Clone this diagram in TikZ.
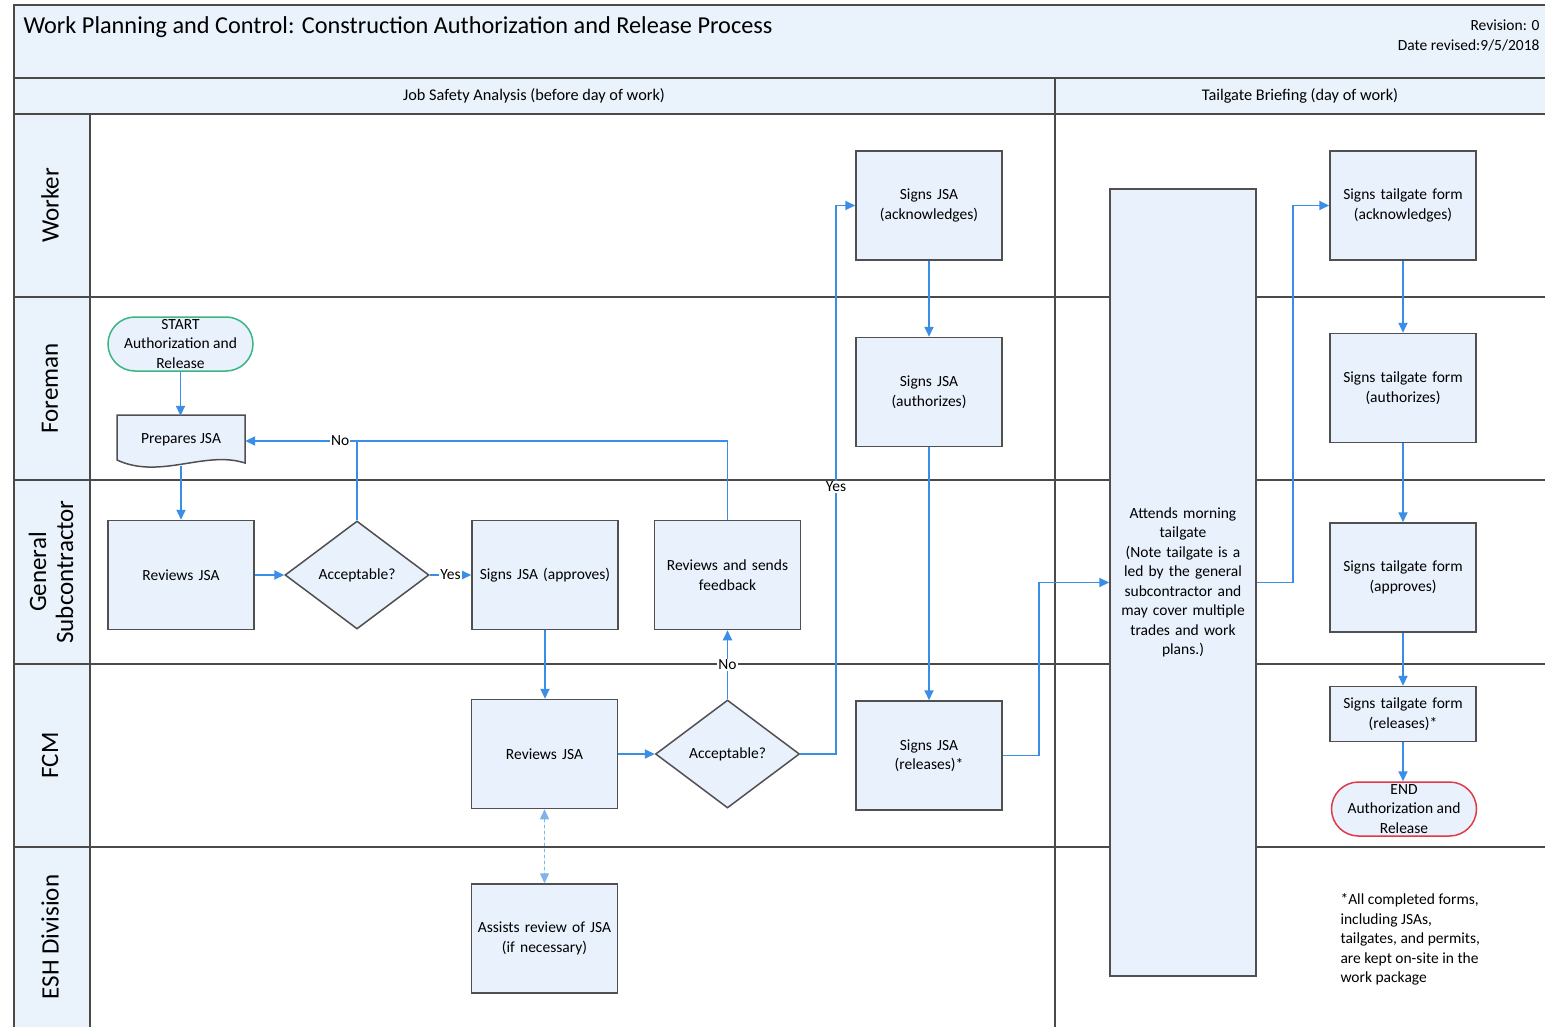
\documentclass[tikz,border=0pt]{standalone}
\usepackage{fontspec}
\setmainfont{Carlito}
\usepackage{tikz}
\usetikzlibrary{positioning,arrows.meta,shapes.geometric,calc}
\definecolor{bandblue}{HTML}{EAF2FB}
\definecolor{boxfill}{HTML}{E8F1FC}
\definecolor{boxstroke}{HTML}{505050}
\definecolor{gridline}{HTML}{4A4A4A}
\definecolor{flowblue}{HTML}{3A8EE6}
\definecolor{dotblue}{HTML}{7FB3EC}
\definecolor{startgreen}{HTML}{3DB57F}
\definecolor{endred}{HTML}{E03A47}
\tikzset{
  box/.style    = {draw=boxstroke, fill=boxfill, line width=1.5pt, align=center,
                   font=\fontsize{15.5}{19.5}\selectfont, inner sep=3pt,
                   minimum width=146pt, minimum height=109pt, text width=140pt},
  tallbox/.style= {box, minimum height=787pt},
  slimbox/.style= {box, minimum height=55pt},
  decide/.style = {diamond, draw=boxstroke, fill=boxfill, line width=1.5pt,
                   font=\fontsize{15.5}{19.5}\selectfont, inner sep=0pt,
                   minimum width=144pt, minimum height=108pt},
  term/.style   = {draw, fill=boxfill, line width=1.5pt, rounded corners=27pt,
                   align=center, font=\fontsize{15.5}{19.5}\selectfont, inner sep=0pt,
                   minimum width=145pt, minimum height=54pt},
  doc/.style    = {draw=none, align=center, font=\fontsize{15.5}{19.5}\selectfont,
                   minimum width=128pt, minimum height=50pt, inner sep=0pt},
  grid/.style   = {draw=gridline, line width=1.4pt},
  flow/.style   = {-{Triangle[length=10pt,width=9pt]}, draw=flowblue, line width=1.8pt},
  link/.style   = {draw=flowblue, line width=1.8pt},
  dotlink/.style= {{Triangle[length=10pt,width=9pt]}-{Triangle[length=10pt,width=9pt]},
                   draw=dotblue, fill=flowblue, line width=1.4pt, dash pattern=on 3pt off 3pt},
  lbl/.style    = {font=\fontsize{15.5}{18}\selectfont, fill=white, inner sep=1pt},
  lane/.style   = {rotate=90, align=center, font=\fontsize{25}{27}\selectfont},
  head/.style   = {font=\fontsize{16.3}{18}\selectfont},
}

\begin{document}
\begin{tikzpicture}[x=1pt, y=-1pt]
  \useasboundingbox (0,0) rectangle (1545,1027);
  \fill[white] (0,0) rectangle (1545,1027);

  % ---------------- Frame and lanes ----------------
  \fill[bandblue] (14,5) rectangle (1545,114);
  \fill[bandblue] (14,114) rectangle (90,1027);
  \draw[grid] (14,1027) -- (14,5) -- (1545,5);
  \draw[grid] (14,78) -- (1545,78);
  \draw[grid] (14,114) -- (1545,114);
  \foreach \y in {297,480,664,847}
    \draw[grid] (14,\y) -- (1545,\y);
  \draw[grid] (90,114) -- (90,1027);
  \draw[grid] (1055,78) -- (1055,1027);

  \node[anchor=west, font=\fontsize{24.3}{28}\selectfont] (title) at (20,27)
    {Work Planning and Control: Construction Authorization and Release Process};
  \node[anchor=east, align=right, font=\fontsize{15.5}{20}\selectfont] (rev) at (1543,35)
    {Revision: 0\\Date revised:9/5/2018};
  \node[head] (jsahead) at (534,96) {Job Safety Analysis (before day of work)};
  \node[head] (tghead) at (1300,96) {Tailgate Briefing (day of work)};

  \node[lane] (lworker) at (50,205.5) {Worker};
  \node[lane] (lforeman) at (50,388.5) {Foreman};
  \node[lane] (lgsub) at (51,572) {General\\Subcontractor};
  \node[lane] (lfcm) at (50,755.5) {FCM};
  \node[lane] (lesh) at (50,937) {ESH Division};

  % ---------------- Job safety analysis ----------------
  \node[term, draw=startgreen] (start) at (180.5,344) {START\\Authorization and\\Release};
  \draw[draw=boxstroke, fill=boxfill, line width=1.5pt]
    (117,415) -- (245,415) -- (245,463)
    .. controls (205,450) and (160,480) .. (117,460) -- cycle;
  \node[doc] (prep) at (181,441) {\raisebox{6pt}{Prepares JSA}};

  \node[box] (revgs) at (181,575) {Reviews JSA};
  \node[decide] (dia1) at (357,575) {Acceptable?};
  \node[box] (sap) at (545,575) {Signs JSA (approves)};
  \node[box] (fb) at (727.5,575) {Reviews and sends\\feedback};

  \node[box] (sack) at (929,205.5) {Signs JSA\\(acknowledges)};
  \node[box, below=76pt of sack] (sauth) {Signs JSA\\(authorizes)};
  \node[box] (revfcm) at (544.5,754) {Reviews JSA};
  \node[decide] (dia2) at (727.5,754) {Acceptable?};
  \node[box] (srel) at (929,755.5) {Signs JSA\\(releases)*};
  \node[box] (assist) at (544.5,938.5) {Assists review of JSA\\(if necessary)};

  \coordinate (nojoin) at (dia1.north |- prep.east);
  \coordinate (yescol) at (836,0);
  \draw[flow] (start) -- (start |- prep.north);
  \draw[flow] (prep.south) -- (prep.south |- revgs.north);
  \draw[flow] (revgs) -- (dia1);
  \draw[flow] (dia1) -- node[lbl]{Yes} (sap);
  \draw[flow] (dia1.north) -- (nojoin) -- node[lbl, pos=0.15]{No} (prep.east);
  \draw[link] (fb.north) |- (nojoin);
  \draw[flow] (sap.south) -- (sap.south |- revfcm.north);
  \draw[flow] (revfcm) -- (dia2);
  \draw[flow] (dia2) -- node[lbl, pos=0.5]{No} (fb);
  \draw[flow] (dia2.east) -- (dia2.east -| yescol)
    -- node[lbl, pos=0.487]{Yes} (yescol |- sack.west) -- (sack.west);
  \draw[flow] (sack) -- (sauth);
  \draw[flow] (sauth) -- (sauth |- srel.north);
  \draw[dotlink] (revfcm) -- (assist);

  % ---------------- Tailgate briefing ----------------
  \node[tallbox] (att) at (1183,582.5)
    {Attends morning\\tailgate\\(Note tailgate is a\\led by the general\\subcontractor and\\may cover multiple\\trades and work\\plans.)};
  \node[box] (tga) at (1403,205.5) {Signs tailgate form\\(acknowledges)};
  \node[box, below=72pt of tga] (tgb) {Signs tailgate form\\(authorizes)};
  \node[box, below=79pt of tgb] (tgc) {Signs tailgate form\\(approves)};
  \node[slimbox, below=53pt of tgc] (tgd) {Signs tailgate form\\(releases)*};
  \node[term, draw=endred, below=39pt of tgd, xshift=1pt] (finish) {END\\Authorization and\\Release};

  \draw[flow] (srel.east) -- ++(36,0) |- (att.west);
  \draw[flow] (att.east) -- ++(36,0) |- (tga.west);
  \draw[flow] (tga) -- (tgb);
  \draw[flow] (tgb) -- (tgc);
  \draw[flow] (tgc) -- (tgd);
  \draw[flow] (tgd.south) -- (tgd.south |- finish.north);

  \node[anchor=north west, align=left, font=\fontsize{15.5}{19.5}\selectfont] (note) at (1337,890)
    {*All completed forms,\\including JSAs,\\tailgates, and permits,\\are kept on-site in the\\work package};
\end{tikzpicture}
\end{document}
